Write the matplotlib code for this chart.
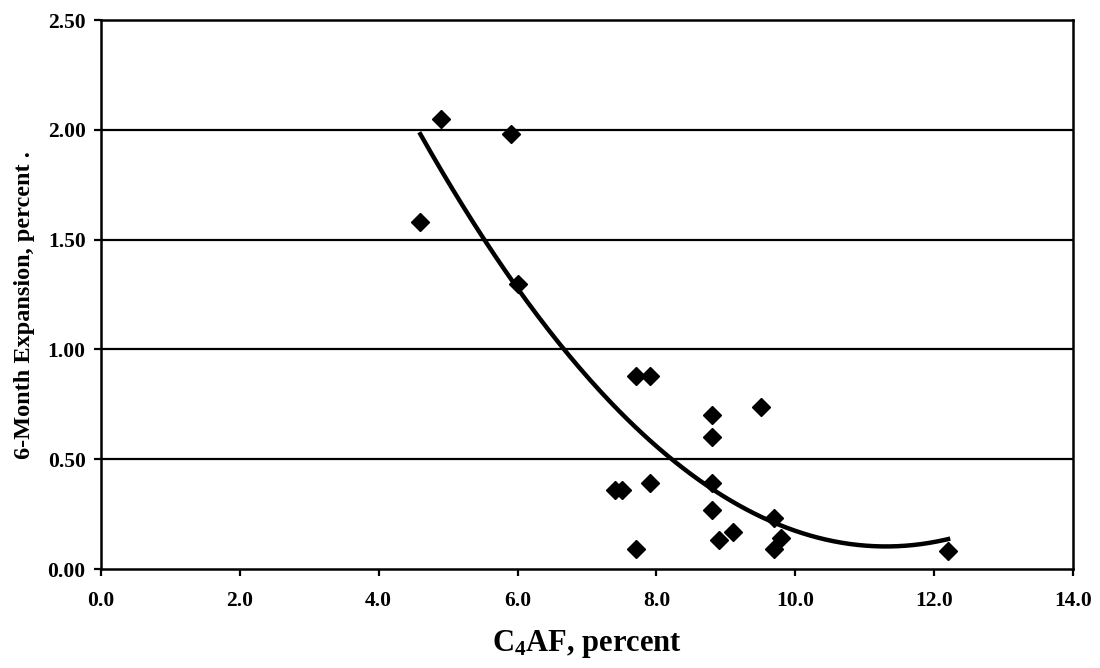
import numpy as np
import matplotlib
matplotlib.use("Agg")
import matplotlib.pyplot as plt

# C4AF content (percent) and 6-month expansion (percent)
c4af = [4.6, 4.9, 5.9, 6.0, 7.4, 7.5, 7.7, 7.7, 7.9, 7.9,
        8.8, 8.8, 8.8, 8.8, 8.9, 9.1, 9.5, 9.7, 9.7, 9.8, 12.2]
expansion = [1.58, 2.05, 1.98, 1.30, 0.36, 0.36, 0.88, 0.09, 0.88, 0.39,
             0.70, 0.60, 0.39, 0.27, 0.13, 0.17, 0.74, 0.23, 0.09, 0.14, 0.08]

x_ticks = [0.0, 2.0, 4.0, 6.0, 8.0, 10.0, 12.0, 14.0]
y_ticks = [0.00, 0.50, 1.00, 1.50, 2.00, 2.50]

plt.rcParams['font.family'] = ['Liberation Serif', 'DejaVu Serif']
plt.rcParams['font.weight'] = 'bold'
plt.rcParams['mathtext.fontset'] = 'custom'
plt.rcParams['mathtext.rm'] = 'Liberation Serif:bold'
plt.rcParams['mathtext.bf'] = 'Liberation Serif:bold'
plt.rcParams['mathtext.it'] = 'Liberation Serif:bold:italic'

fig = plt.figure(figsize=(11, 6.68), dpi=100)
ax = fig.add_axes([0.0918, 0.1482, 0.8837, 0.8218])

# horizontal grid
for yv in y_ticks[1:-1]:
    ax.axhline(yv, color='black', lw=1.6, zorder=1)

# second-order polynomial trend line
coef = np.polyfit(c4af, expansion, 2)
xs = np.linspace(min(c4af), max(c4af), 200)
ax.plot(xs, np.polyval(coef, xs), color='black', lw=3.2, zorder=2)

ax.plot(c4af, expansion, linestyle='none', marker='D', markersize=9,
        color='black', zorder=3)

ax.set_xlim(0, 14)
ax.set_ylim(0, 2.5)
ax.set_xticks(x_ticks)
ax.set_xticklabels([f"{v:.1f}" for v in x_ticks])
ax.set_yticks(y_ticks)
ax.set_yticklabels([f"{v:.2f}" for v in y_ticks])
ax.tick_params(axis='both', direction='out', length=5, width=1.6,
               labelsize=15.5, pad=6)
ax.tick_params(axis='x', pad=11)
for lbl in ax.get_xticklabels() + ax.get_yticklabels():
    lbl.set_fontweight('bold')
for sp in ax.spines.values():
    sp.set_linewidth(1.8)

ax.set_xlabel(r"C$_\mathbf{4}$AF, percent", fontsize=22, fontweight='bold')
ax.xaxis.set_label_coords(0.5, -0.108)
ax.set_ylabel("6-Month Expansion, percent .", fontsize=17.5, fontweight='bold')
ax.yaxis.set_label_coords(-0.068, 0.481)

fig.savefig("out.png", dpi=100)
